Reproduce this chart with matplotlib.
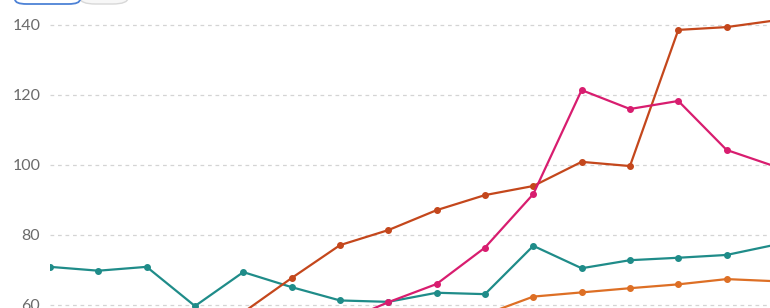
import numpy as np
import matplotlib
matplotlib.use('Agg')
import matplotlib.pyplot as plt
from matplotlib.patches import FancyBboxPatch

plt.rcParams['font.family'] = ['Lato', 'DejaVu Sans']

nan = np.nan
x = list(range(16))
teal = [70.9, 69.8, 70.9, 59.7, 69.4, 65.1, 61.3, 60.9, 63.5, 63.1, 76.9, 70.5, 72.8, 73.5, 74.3, 77.2]
rust = [nan, nan, nan, nan, 57.9, 67.7, 77.1, 81.4, 87.1, 91.4, 94.0, 100.9, 99.7, 138.6, 139.4, 141.3]
pink = [nan, nan, nan, nan, nan, nan, 54.9, 60.8, 66.0, 76.4, 91.7, 121.4, 116.0, 118.3, 104.3, 99.6]
amber = [nan, nan, nan, nan, nan, nan, nan, nan, nan, 57.3, 62.4, 63.6, 64.8, 65.9, 67.4, 66.8]

series = [(teal, '#1f8c89'), (rust, '#c4471c'), (pink, '#d81d6f'), (amber, '#dd6f25')]
yticks = [60, 80, 100, 120, 140]

W, H = 770, 308
fig = plt.figure(figsize=(W / 100, H / 100), dpi=100)
ax = fig.add_axes([50 / W, 0, 720 / W, 1])

step = 48.33
ax.set_xlim(0, 720 / step)
ax.set_ylim(140 - 283 / 3.5, 140 + 25 / 3.5)

for vals, col in series:
    ax.plot(x, vals, color=col, lw=1.6, marker='o', ms=4, clip_on=True, zorder=3)

ax.set_yticks(yticks)
ax.set_yticklabels([str(t) for t in yticks])
ax.tick_params(axis='y', length=0, pad=7, labelsize=11.5, labelcolor='#6b6b6b')
ax.set_xticks([])
ax.grid(axis='y', color='#d4d4d4', ls=(0, (3, 3)), lw=0.9)
for s in ax.spines.values():
    s.set_visible(False)

# toggle button, cut off by the top edge
btn_r = FancyBboxPatch((80 / W, 1 - 4 / H), 48 / W, 30 / H, boxstyle='round,pad=0,rounding_size=0.02',
                       transform=fig.transFigure, fc='#f7f7f7', ec='#d8d8d8', lw=1, clip_on=False)
btn_l = FancyBboxPatch((15 / W, 1 - 4 / H), 65 / W, 30 / H, boxstyle='round,pad=0,rounding_size=0.015',
                       transform=fig.transFigure, fc='white', ec='#4d82d6', lw=1.3, clip_on=False)
fig.patches.extend([btn_r, btn_l])

fig.savefig('out.png', dpi=100)
